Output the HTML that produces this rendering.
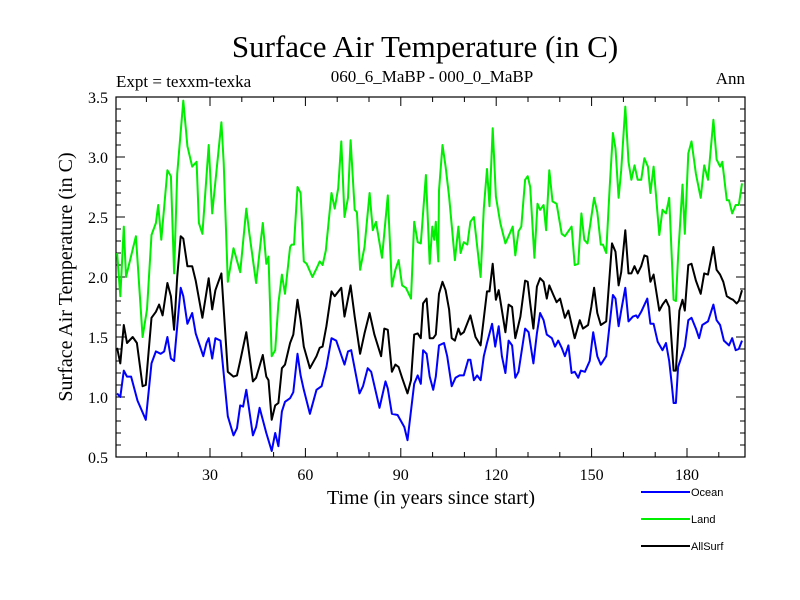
<!DOCTYPE html>
<html><head><meta charset="utf-8"><style>
html,body{margin:0;padding:0;background:#fff;}
svg{display:block;}
</style></head><body>
<svg id="chart" width="800" height="600" xmlns="http://www.w3.org/2000/svg">
<rect x="0" y="0" width="800" height="600" fill="#fff"/>
<text x="425" y="57" text-anchor="middle" font-family="Liberation Serif, serif" font-size="31">Surface Air Temperature (in C)</text>
<text x="116" y="87" font-family="Liberation Serif, serif" font-size="17">Expt = texxm-texka</text>
<text x="432" y="82" text-anchor="middle" font-family="Liberation Serif, serif" font-size="17">060_6_MaBP - 000_0_MaBP</text>
<text x="745" y="84" text-anchor="end" font-family="Liberation Serif, serif" font-size="17">Ann</text>
<text transform="translate(72,277) rotate(-90)" text-anchor="middle" font-family="Liberation Serif, serif" font-size="20">Surface Air Temperature (in C)</text>
<text x="431" y="504" text-anchor="middle" font-family="Liberation Serif, serif" font-size="20">Time (in years since start)</text>
<g id="axes"></g>
<g id="series"></g>
<g id="legend"></g>
</svg>
<script>
const yTicks = [0.5, 1.0, 1.5, 2.0, 2.5, 3.0, 3.5];
const yTickLabels = ["0.5", "1.0", "1.5", "2.0", "2.5", "3.0", "3.5"];
const xTicks = [30, 60, 90, 120, 150, 180];
const xTickLabels = ["30", "60", "90", "120", "150", "180"];
const seriesNames = ["Ocean", "Land", "AllSurf"];

const landYears = [0.8,1.8,2.9,3.6,6.7,8.8,10.2,11.6,13.0,13.7,14.7,16.6,17.7,18.7,19.7,21.6,22.9,24.4,25.8,26.5,27.6,29.6,30.7,33.6,34.3,35.6,37.4,39.5,41.4,42.4,44.5,46.6,47.7,48.4,49.4,50.5,51.5,52.6,53.6,55.2,55.7,56.4,57.5,58.5,59.5,60.4,62.2,63.5,64.5,65.4,66.4,68.2,69.2,70.3,71.3,72.3,73.4,74.2,75.5,76.2,77.2,78.6,80.2,81.2,82.2,84.1,85.9,87.2,88.3,89.3,90.4,91.6,93.2,94.2,95.3,96.3,97.9,99.1,99.9,100.5,101.0,101.8,102.0,103.1,104.1,105.2,107.0,108.1,108.8,109.8,110.9,111.9,113.0,115.1,116.1,117.1,117.9,118.9,119.9,121.3,122.9,123.9,125.2,126.0,127.0,127.9,129.1,129.9,130.7,132.0,133.0,133.8,134.9,135.7,136.7,137.7,139.0,140.6,141.6,143.7,144.7,145.8,146.8,147.7,148.7,150.8,151.8,152.9,153.6,154.6,155.7,156.7,157.5,158.5,159.3,160.6,161.6,162.5,163.5,164.5,165.6,166.6,167.7,168.5,169.5,171.3,172.3,173.4,174.4,175.8,176.5,177.2,178.6,179.3,180.4,181.4,182.8,184.3,185.4,186.6,188.3,189.3,190.4,191.1,192.5,193.2,194.2,195.3,196.3,197.3];
const landValues = [2.20,1.84,2.42,2.00,2.34,1.50,1.73,2.35,2.45,2.60,2.31,2.89,2.84,2.03,2.86,3.47,3.09,2.92,2.96,2.45,2.36,3.10,2.53,3.29,2.95,1.96,2.24,2.04,2.57,2.36,1.95,2.45,2.11,2.17,1.34,1.39,1.78,2.02,1.86,2.25,2.27,2.27,2.75,2.70,2.13,2.11,2.00,2.07,2.13,2.10,2.22,2.70,2.57,2.74,3.13,2.50,2.66,3.14,2.56,2.54,2.06,2.25,2.70,2.39,2.46,2.16,2.68,1.92,2.06,2.14,1.93,1.91,1.82,2.46,2.29,2.28,2.85,2.11,2.42,2.31,2.46,2.13,2.72,3.10,2.92,2.67,2.14,2.42,2.20,2.29,2.27,2.46,2.50,2.00,2.57,2.90,2.59,3.24,2.67,2.45,2.28,2.34,2.42,2.18,2.38,2.42,2.81,2.84,2.75,2.16,2.61,2.56,2.60,2.39,2.89,2.63,2.61,2.36,2.34,2.42,2.10,2.11,2.53,2.31,2.28,2.66,2.54,2.27,2.27,2.20,2.75,3.20,3.07,2.66,2.89,3.42,2.96,2.81,2.93,2.81,2.81,2.99,2.92,2.70,2.92,2.35,2.56,2.53,2.66,1.81,1.80,2.17,2.77,2.36,3.03,3.13,2.86,2.66,2.93,2.81,3.31,2.98,2.92,2.96,2.64,2.64,2.53,2.60,2.60,2.78];

const allYears = [0.8,1.8,2.9,3.9,5.7,7.0,8.8,9.8,11.6,13.0,14.0,15.1,16.6,17.7,18.7,19.7,20.8,21.6,22.9,24.4,25.5,27.6,29.6,30.7,31.7,33.6,35.6,37.4,38.5,39.5,41.4,43.5,44.5,46.6,47.7,48.4,49.4,50.5,51.5,52.6,53.6,55.2,56.2,57.5,58.5,59.5,61.4,63.5,64.5,65.4,66.6,68.2,69.2,71.3,72.3,74.2,75.5,77.2,78.6,80.2,81.7,83.8,84.8,85.9,87.2,88.3,89.3,90.4,92.1,93.2,94.2,95.3,96.3,97.0,98.1,99.1,100.2,101.0,102.0,103.1,104.1,105.2,106.0,107.0,108.1,108.8,109.8,111.9,113.5,115.1,117.1,117.9,118.9,119.9,120.8,122.9,123.9,125.0,126.0,127.6,129.1,129.9,130.7,131.7,132.8,133.8,134.9,135.9,136.7,138.0,139.0,140.1,141.6,142.7,144.7,146.3,147.3,148.9,149.9,150.8,151.8,152.9,154.6,155.7,156.4,157.5,158.5,159.3,160.6,161.6,162.5,163.5,164.5,165.6,166.6,167.5,168.5,169.5,171.3,172.3,173.4,174.4,175.2,175.8,176.5,177.6,178.6,179.3,180.4,181.4,182.8,184.3,185.4,186.6,188.3,189.3,190.4,191.4,192.5,193.7,194.5,195.6,196.3,197.3];
const allValues = [1.41,1.28,1.60,1.45,1.50,1.45,1.09,1.10,1.66,1.71,1.77,1.68,1.95,1.84,1.56,2.00,2.34,2.32,2.09,2.09,1.97,1.66,1.99,1.73,1.89,2.03,1.21,1.17,1.18,1.30,1.54,1.13,1.16,1.35,1.17,1.14,0.81,0.93,0.95,1.24,1.27,1.45,1.52,1.81,1.64,1.42,1.24,1.34,1.41,1.42,1.59,1.88,1.84,1.91,1.67,1.93,1.67,1.36,1.53,1.70,1.52,1.34,1.57,1.56,1.21,1.27,1.25,1.16,1.03,1.14,1.52,1.53,1.49,1.78,1.82,1.49,1.49,1.52,1.86,1.96,1.89,1.73,1.49,1.47,1.57,1.52,1.54,1.68,1.50,1.43,1.88,1.88,2.11,1.81,1.89,1.54,1.77,1.75,1.49,1.67,1.97,1.96,1.78,1.57,1.92,1.99,1.96,1.82,1.93,1.85,1.79,1.82,1.66,1.72,1.49,1.64,1.57,1.60,1.75,1.91,1.70,1.60,1.63,2.02,2.28,2.21,1.93,2.04,2.39,2.03,2.03,2.09,2.03,2.09,2.18,2.17,1.96,2.02,1.72,1.77,1.81,1.75,1.45,1.22,1.22,1.72,1.81,1.72,2.10,2.11,1.97,1.86,2.03,2.02,2.25,2.06,2.02,1.96,1.84,1.82,1.81,1.78,1.80,1.89];

const oceanYears = [0.8,1.8,2.9,3.9,5.2,7.2,9.8,11.6,13.0,14.5,15.6,16.6,17.7,18.7,20.8,21.6,22.9,24.4,25.5,26.5,27.9,28.9,29.6,30.7,31.7,33.3,35.6,37.4,38.5,39.5,40.4,41.4,43.5,44.5,45.6,47.7,49.4,50.5,51.5,52.6,53.6,55.2,56.2,57.5,58.5,59.5,61.4,63.5,65.1,66.6,68.2,69.7,72.3,73.4,74.4,77.0,78.1,79.6,80.7,83.3,85.2,85.9,87.2,89.0,91.1,92.1,94.2,95.3,96.3,97.0,98.1,99.1,100.2,101.0,102.0,103.6,104.6,106.0,107.2,108.5,109.8,111.2,111.9,113.0,114.0,115.1,116.1,117.1,118.7,119.7,120.8,121.8,122.9,123.9,125.0,126.0,127.0,129.1,130.2,131.7,132.8,133.8,134.9,135.9,137.5,138.5,139.5,140.6,141.6,142.7,143.7,144.7,145.8,146.6,147.9,149.4,150.5,151.8,152.9,154.6,155.7,156.7,157.5,158.5,159.3,160.6,161.6,163.0,164.0,164.5,165.6,167.5,168.5,169.5,170.8,172.3,173.4,174.4,175.2,175.8,176.5,177.2,178.6,179.3,180.4,181.4,182.8,183.8,184.8,186.6,188.3,189.3,190.4,191.6,193.2,194.2,195.3,196.3,197.3];
const oceanValues = [1.03,1.00,1.22,1.17,1.17,0.97,0.81,1.28,1.38,1.36,1.38,1.50,1.32,1.30,1.91,1.84,1.61,1.70,1.53,1.45,1.34,1.45,1.49,1.32,1.49,1.47,0.84,0.68,0.74,0.93,0.92,1.06,0.68,0.75,0.91,0.70,0.55,0.70,0.59,0.88,0.96,0.99,1.04,1.36,1.18,1.06,0.86,1.06,1.09,1.25,1.49,1.47,1.27,1.38,1.39,1.03,1.09,1.24,1.21,0.91,1.13,1.07,0.86,0.85,0.75,0.64,1.11,1.18,1.11,1.39,1.36,1.17,1.06,1.17,1.43,1.45,1.34,1.09,1.16,1.18,1.18,1.31,1.31,1.14,1.18,1.14,1.34,1.45,1.61,1.42,1.59,1.34,1.20,1.47,1.43,1.16,1.21,1.57,1.54,1.28,1.53,1.70,1.64,1.52,1.49,1.42,1.47,1.41,1.34,1.43,1.20,1.21,1.16,1.22,1.21,1.30,1.54,1.34,1.27,1.34,1.61,1.85,1.82,1.59,1.72,1.91,1.63,1.67,1.68,1.66,1.71,1.82,1.61,1.61,1.46,1.39,1.45,1.30,1.11,0.95,0.95,1.25,1.36,1.42,1.64,1.66,1.57,1.49,1.60,1.63,1.77,1.64,1.60,1.47,1.43,1.49,1.39,1.40,1.47];

const NS = "http://www.w3.org/2000/svg";
const L = 116, R = 745, T = 97, B = 457;
function xScale(yr){ return 114.6 + 3.18 * yr; }
function yScale(v){ return B - (v - 0.5) / 3.0 * (B - T); }
function mk(tag, attrs, parent){ const e = document.createElementNS(NS, tag); for (const k in attrs) e.setAttribute(k, attrs[k]); parent.appendChild(e); return e; }

const axes = document.getElementById('axes');
const frame = mk('rect', {x:L, y:T, width:R-L, height:B-T, fill:'none', stroke:'#000', 'stroke-width':1.2}, axes);


// minor y ticks
for (let i = 0; i <= 30; i++) {
  const v = 0.5 + i * 0.1; const y = yScale(v); const major = (i % 5 === 0);
  const len = major ? 9 : 5;
  const t1 = mk('line', {x1:L, x2:L+len, y1:y, y2:y, stroke:'#000', 'stroke-width':1}, axes);
  
  
  const t2 = mk('line', {x1:R, x2:R-len, y1:y, y2:y, stroke:'#000', 'stroke-width':1}, axes);
  
  
}
yTicks.forEach((v, i) => {
  const t = mk('text', {x:108, y:yScale(v)+6, 'text-anchor':'end', 'font-family':'Liberation Serif, serif', 'font-size':16}, axes);
  t.textContent = yTickLabels[i];
  
  
});
for (let yr = 10; yr <= 190; yr += 10) {
  const x = xScale(yr); const major = (yr % 30 === 0); const len = major ? 9 : 5;
  const a = mk('line', {x1:x, x2:x, y1:B, y2:B-len, stroke:'#000', 'stroke-width':1}, axes);
  
  
  const b = mk('line', {x1:x, x2:x, y1:T, y2:T+len, stroke:'#000', 'stroke-width':1}, axes);
  
  
}
xTicks.forEach((yr, i) => {
  const t = mk('text', {x:xScale(yr), y:480, 'text-anchor':'middle', 'font-family':'Liberation Serif, serif', 'font-size':16}, axes);
  t.textContent = xTickLabels[i];
  
  
});

const sg = document.getElementById('series');
function drawLine(years, vals, color, name){
  const pts = years.map((yr, i) => xScale(yr).toFixed(1) + ',' + yScale(vals[i]).toFixed(1)).join(' ');
  const p = mk('polyline', {points:pts, fill:'none', stroke:color, 'stroke-width':2, 'stroke-linejoin':'round'}, sg);
  
  
}
drawLine(landYears, landValues, '#00ee00', 'land-line');
drawLine(allYears, allValues, '#000000', 'allsurf-line');
drawLine(oceanYears, oceanValues, '#0000ff', 'ocean-line');

const lg = document.getElementById('legend');
const legColors = ['#0000ff', '#00ee00', '#000000'];
const legY = [492, 519, 546];
seriesNames.forEach((n, i) => {
  const l = mk('line', {x1:641, x2:690, y1:legY[i], y2:legY[i], stroke:legColors[i], 'stroke-width':2}, lg);
  
  
  const t = mk('text', {x:691, y:legY[i]+4, 'font-family':'Liberation Sans, sans-serif', 'font-size':11}, lg);
  t.textContent = n;
  
  
});
</script>
</body></html>
